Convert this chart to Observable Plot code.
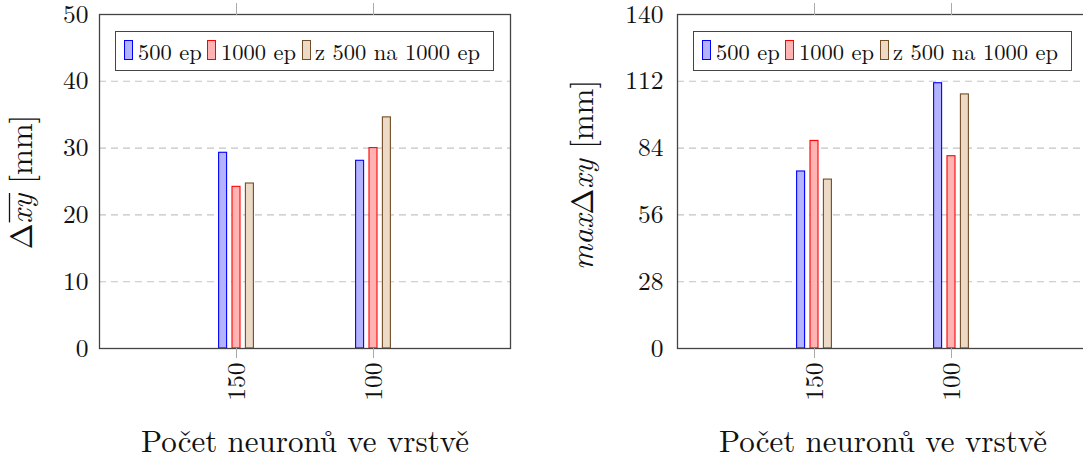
<!DOCTYPE html>
<html><head><meta charset="utf-8">
<script src="https://cdn.jsdelivr.net/npm/d3@7"></script>
<script src="https://cdn.jsdelivr.net/npm/@observablehq/plot@0.6"></script>
<style>
body{margin:0;background:#fff;overflow:hidden}
#wrap{position:relative;width:1083px;height:458px;overflow:hidden;color:#111}
#wrap, #wrap *{font-family:"Latin Modern Roman","Liberation Serif",serif !important}
.chart{position:absolute;top:0}
.legend{position:absolute;top:31px;width:379px;height:40px;box-sizing:border-box;border:1.3px solid #444;background:#fff;font-size:22.5px}
.sw{position:absolute;top:8px;width:9px;height:20px;box-sizing:border-box;border:1.3px solid}
.lt{position:absolute;top:6px;line-height:26px;white-space:nowrap}
</style></head><body><div id="wrap"></div>
<script>
const categories = ["150", "100"];
const series = ["500 ep", "1000 ep", "z 500 na 1000 ep"];
const xLabel = "Počet neuronů ve vrstvě";
// mean error Δxy [mm]
const mean500 = [29.3, 28.1];
const mean1000 = [24.2, 30.0];
const meanCont = [24.7, 34.6];
// max error [mm]
const max500 = [74.2, 111.2];
const max1000 = [87.0, 80.6];
const maxCont = [70.8, 106.5];
const meanTicks = [0, 10, 20, 30, 40, 50];
const maxTicks = [0, 28, 56, 84, 112, 140];
const fills = ["#b3b3ff", "#ffb3b3", "#ecd9c6"];
const strokes = ["#0000ff", "#ff0000", "#734d26"];

const wrap = document.getElementById("wrap");

function chart({vals, ticks, left, ml, width, tickPad, labelParts, lx, ly}) {
  const plot = Plot.plot({
    width, height: 458,
    marginLeft: ml, marginRight: width - ml - 411, marginTop: 14, marginBottom: 110,
    style: {color: "#111", background: "transparent", overflow: "visible"},
    x: {type: "band", domain: categories, paddingInner: 0.945, paddingOuter: 0.9725},
    y: {domain: [ticks[0], ticks[ticks.length - 1]]},
    marks: [
      Plot.ruleY(ticks.slice(1, -1), {stroke: "#c4c4c4", strokeWidth: 1.1, strokeDasharray: "7,5"}),
      ...series.map((s, i) => Plot.barY(
        categories.map((c, j) => ({cat: c, v: vals[i][j], s})),
        {x: "cat", y: "v", fill: fills[i], stroke: strokes[i], strokeWidth: 1.1, dx: (i - 1) * 13.4})),
      Plot.frame({stroke: "#444", strokeWidth: 1.3}),
      Plot.axisX({anchor: "bottom", tickSize: 10, tickRotate: -90, tickPadding: 4, fontSize: 25.5, stroke: "#aaa", label: null}),
      Plot.axisX({anchor: "top", tickSize: 12, tickFormat: () => "", stroke: "#aaa", label: null}),
      Plot.axisY({ticks, tickSize: 0, tickPadding: tickPad, fontSize: 25.5, label: null}),
      Plot.text([xLabel], {text: d => d, frameAnchor: "bottom", dy: 103, fontSize: 31, fill: "#111"})
    ]
  });
  plot.classList.add("chart");
  plot.style.left = left + "px";
  const g = d3.select(plot).append("g")
    .attr("transform", `translate(${lx},${ly}) rotate(-90)`);
  const t = g.append("text")
    .attr("text-anchor", "middle").attr("font-size", 31).attr("fill", "#111");
  const over = [];
  let idx = 0;
  for (const [str, ital, ov] of labelParts) {
    const ts = t.append("tspan").text(str);
    if (ital) ts.attr("font-style", "italic");
    if (ov) over.push([idx, idx + str.length - 1]);
    idx += str.length;
  }
  wrap.appendChild(plot);
  for (const [a, b] of over) {
    const ea = t.node().getExtentOfChar(a), eb = t.node().getExtentOfChar(b);
    g.append("line")
      .attr("x1", ea.x + 1).attr("x2", eb.x + eb.width + 1)
      .attr("y1", -22.5).attr("y2", -22.5)
      .attr("stroke", "#111").attr("stroke-width", 1.3);
  }

  const lg = document.createElement("div");
  lg.className = "legend";
  lg.style.left = (left + ml + 16) + "px";
  const swX = [8, 91, 186], txX = [22, 105, 199];
  series.forEach((s, i) => {
    const sw = document.createElement("div");
    sw.className = "sw";
    sw.style.left = swX[i] + "px";
    sw.style.background = fills[i];
    sw.style.borderColor = strokes[i];
    lg.appendChild(sw);
    const tx = document.createElement("div");
    tx.className = "lt";
    tx.style.left = txX[i] + "px";
    tx.textContent = s;
    lg.appendChild(tx);
  });
  wrap.appendChild(lg);
}

chart({vals: [mean500, mean1000, meanCont], ticks: meanTicks, left: 0, ml: 99, width: 560, tickPad: 11,
  labelParts: [["Δ", false, false], ["xy", true, true], [" [mm]", false, false]], lx: 32, ly: 182});
chart({vals: [max500, max1000, maxCont], ticks: maxTicks, left: 560, ml: 117, width: 540, tickPad: 14,
  labelParts: [["max", true, false], ["Δ", false, false], ["xy", true, false], [" [mm]", false, false]], lx: 33, ly: 175});
</script></body></html>
